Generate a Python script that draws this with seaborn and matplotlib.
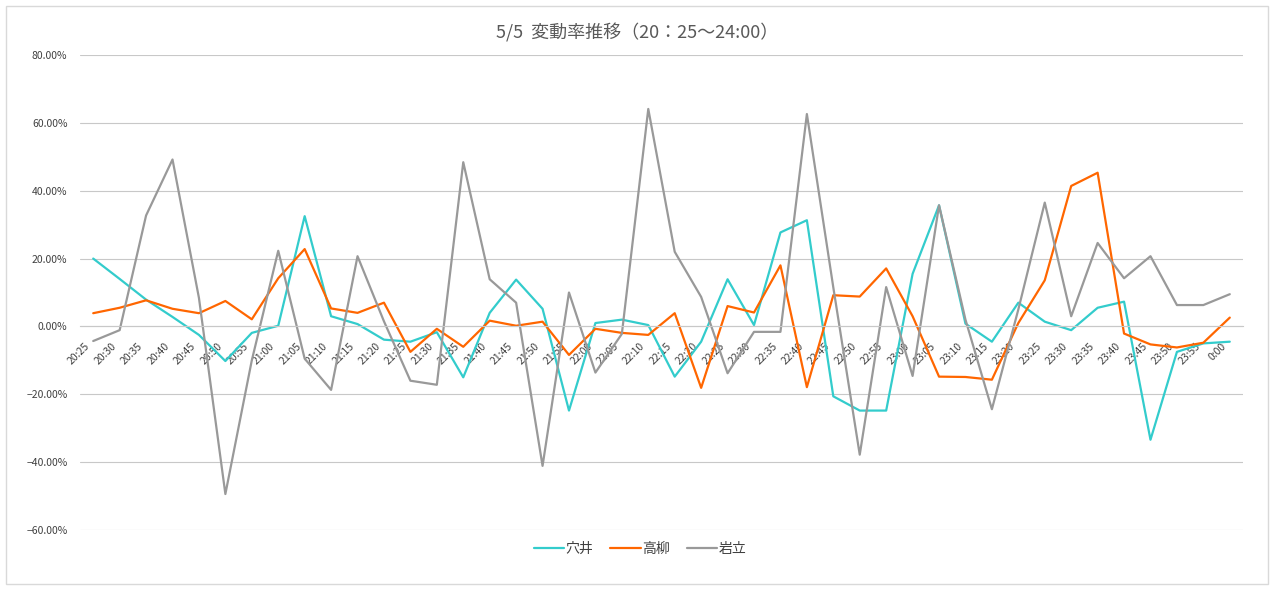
import matplotlib
matplotlib.use("Agg")
import pandas as pd
import matplotlib.pyplot as plt
import seaborn as sns
from matplotlib.patches import Rectangle
from matplotlib.ticker import FuncFormatter, MultipleLocator
from matplotlib.transforms import ScaledTranslation

times = ["20:25", "20:30", "20:35", "20:40", "20:45", "20:50", "20:55",
         "21:00", "21:05", "21:10", "21:15", "21:20", "21:25", "21:30",
         "21:35", "21:40", "21:45", "21:50", "21:55", "22:00", "22:05",
         "22:10", "22:15", "22:20", "22:25", "22:30", "22:35", "22:40",
         "22:45", "22:50", "22:55", "23:00", "23:05", "23:10", "23:15",
         "23:20", "23:25", "23:30", "23:35", "23:40", "23:45", "23:50",
         "23:55", "0:00"]

# 変動率 (%)
anai = [20.0, 14.0, 7.9, 2.8, -2.5, -10.2, -1.9, 0.2, 32.5, 3.0, 0.7,
        -3.9, -4.5, -1.7, -15.0, 4.0, 13.8, 5.2, -24.8, 1.0, 2.0,
        0.4, -14.8, -4.5, 13.9, 0.4, 27.7, 31.3, -20.6, -24.8, -24.8,
        15.5, 35.7, 0.8, -4.5, 7.0, 1.4, -1.1, 5.5, 7.3, -33.4,
        -7.5, -5.0, -4.5]
takayanagi = [3.9, 5.5, 7.7, 5.2, 3.9, 7.5, 2.1, 14.2, 22.8, 5.3, 4.0,
              7.0, -7.5, -0.7, -6.0, 1.7, 0.2, 1.4, -8.4, -0.7, -1.9,
              -2.5, 3.9, -18.1, 6.0, 4.1, 18.0, -17.9, 9.2, 8.8, 17.1,
              3.0, -14.8, -14.9, -15.7, 1.0, 13.6, 41.4, 45.3, -2.1, -5.3,
              -6.2, -4.8, 2.6]
iwadate = [-4.3, -1.1, 32.7, 49.2, 8.4, -49.4, -10.0, 22.3, -9.5, -18.7, 20.7,
           1.5, -16.0, -17.2, 48.4, 13.9, 7.0, -41.1, 10.0, -13.6, -2.2,
           64.1, 22.0, 8.7, -13.8, -1.6, -1.6, 62.6, 11.5, -37.8, 11.6,
           -14.6, 35.7, 2.0, -24.4, 5.0, 36.5, 3.0, 24.6, 14.2, 20.7,
           6.3, 6.3, 9.5]

names = ["穴井", "高柳", "岩立"]
colors = ["#33CCCC", "#FF6600", "#999999"]

df = pd.DataFrame({"idx": range(len(times)), "穴井": anai,
                   "高柳": takayanagi, "岩立": iwadate})
df = df.melt(id_vars="idx", var_name="name", value_name="rate")

sns.set_theme(style="white")
plt.rcParams["font.family"] = ["Noto Sans CJK JP", "DejaVu Sans"]

W, H = 1274, 590
fig = plt.figure(figsize=(W / 100, H / 100), dpi=100)
ax = fig.add_axes([80 / W, 1 - 530 / H, (1243 - 80) / W, (530 - 55) / H])

sns.lineplot(data=df, x="idx", y="rate", hue="name", hue_order=names,
             palette=colors, linewidth=1.6, ax=ax)

ax.set_xlim(-0.5, len(times) - 0.5)
ax.set_ylim(-60, 80)
ax.yaxis.set_major_locator(MultipleLocator(20))
ax.yaxis.set_major_formatter(FuncFormatter(
    lambda v, p: f"{v:.2f}%".replace("-", "\u2212")))
ax.grid(axis="y", color="#C8C8C8", linewidth=0.8)
ax.set_axisbelow(True)
ax.set_xlabel("")
ax.set_ylabel("")

for s in ["top", "right", "left"]:
    ax.spines[s].set_visible(False)
ax.spines["bottom"].set_position(("data", 0))
ax.spines["bottom"].set_color("#C8C8C8")
ax.spines["bottom"].set_linewidth(0.8)

ax.set_xticks(range(len(times)))
ax.set_xticklabels(times)
ax.tick_params(axis="x", length=0, pad=13, labelsize=7.5, colors="#404040")
ax.tick_params(axis="y", length=0, pad=9, labelsize=7.5, colors="#404040")

shift = ScaledTranslation(-5 / 100, 0, fig.dpi_scale_trans)
for lbl in ax.get_xticklabels():
    lbl.set_rotation(45)
    lbl.set_ha("right")
    lbl.set_va("center")
    lbl.set_rotation_mode("anchor")
    lbl.set_transform(lbl.get_transform() + shift)

sns.move_legend(ax, "center", bbox_to_anchor=(640 / W, 1 - 549 / H),
                bbox_transform=fig.transFigure, ncol=3, title=None,
                frameon=False, fontsize=10, handlelength=2.2,
                handletextpad=0.1, columnspacing=1.2)
for t in ax.get_legend().get_texts():
    t.set_color("#404040")

fig.text(0.5, 1 - 33 / H, "5/5  変動率推移（20：25～24:00）",
         ha="center", va="center", fontsize=13, color="#595959")

fig.add_artist(Rectangle((6 / W, 6 / H), 1262 / W, 578 / H,
                         transform=fig.transFigure, fill=False,
                         edgecolor="#D9D9D9", linewidth=1))

fig.savefig("out.png", dpi=100)
